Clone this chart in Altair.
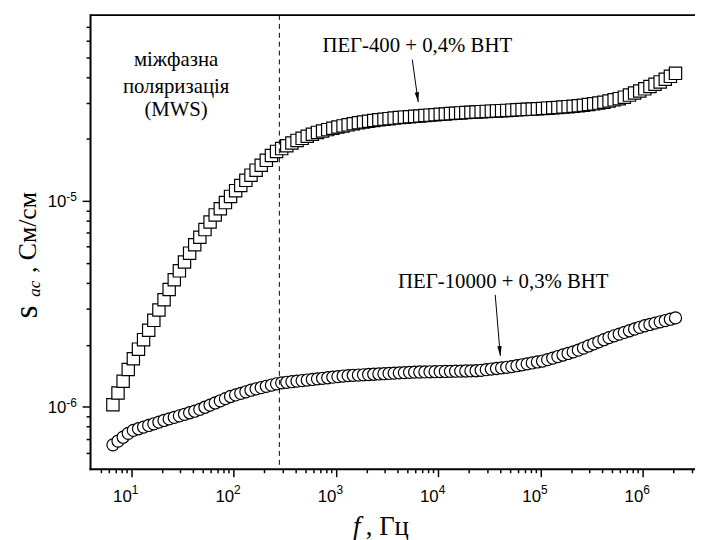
import altair as alt
import pandas as pd

# ---- data ----
freq_hz = [6.607, 7.413, 8.318, 9.333,
           10.47, 11.75, 13.18, 14.79, 16.60, 18.62, 20.89, 23.44, 26.30, 29.51,
           33.11, 37.15, 41.69, 46.77, 52.48, 58.88, 66.07, 74.13, 83.18, 93.33,
           104.7, 117.5, 131.8, 147.9, 166.0, 186.2, 208.9, 234.4, 263.0, 295.1,
           331.1, 371.5, 416.9, 467.7, 524.8, 588.8, 660.7, 741.3, 831.8, 933.3,
           1047, 1175, 1318, 1479, 1660, 1862, 2089, 2344, 2630, 2951,
           3311, 3715, 4169, 4677, 5248, 5888, 6607, 7413, 8318, 9333,
           10470, 11750, 13180, 14790, 16600, 18620, 20890, 23440, 26300, 29510,
           33110, 37150, 41690, 46770, 52480, 58880, 66070, 74130, 83180, 93330,
           104700, 117500, 131800, 147900, 166000, 186200, 208900, 234400, 263000, 295100,
           331100, 371500, 416900, 467700, 524800, 588800, 660700, 741300, 831800, 933300,
           1047000, 1175000, 1318000, 1479000, 1660000, 1862000, 2089000]

# sigma_ac in units of 1e-6 S/cm
peg400_s = [1.023, 1.167, 1.330, 1.517,
            1.712, 1.905, 2.118, 2.355, 2.630, 2.951, 3.311, 3.715, 4.142, 4.573,
            5.050, 5.574, 6.121, 6.665, 7.258, 7.904, 8.551, 9.162, 9.817, 10.52,
            11.22, 11.89, 12.59, 13.34, 14.11, 14.90, 15.74, 16.63, 17.40, 17.96,
            18.53, 19.12, 19.68, 20.14, 20.61, 21.09, 21.52, 21.86, 22.20, 22.55,
            22.87, 23.14, 23.42, 23.71, 23.97, 24.17, 24.38, 24.59, 24.78, 24.94,
            25.10, 25.26, 25.40, 25.52, 25.64, 25.75, 25.87, 25.99, 26.11, 26.23,
            26.35, 26.45, 26.56, 26.67, 26.77, 26.86, 26.95, 27.05, 27.14, 27.21,
            27.29, 27.37, 27.45, 27.53, 27.61, 27.69, 27.77, 27.85, 27.93, 28.01,
            28.11, 28.22, 28.34, 28.45, 28.58, 28.71, 28.84, 28.98, 29.15, 29.39,
            29.63, 29.87, 30.17, 30.57, 30.98, 31.39, 31.92, 32.66, 33.42, 34.20,
            35.04, 35.95, 36.90, 37.86, 38.98, 40.30, 41.66]

peg10000_s = [0.6531, 0.6817, 0.7115, 0.7427,
              0.7677, 0.7820, 0.7967, 0.8116, 0.8267, 0.8421, 0.8580, 0.8730, 0.8882, 0.9036,
              0.9195, 0.9354, 0.9517, 0.9710, 0.9947, 1.0188, 1.0437, 1.0690, 1.0951, 1.1220,
              1.1418, 1.1620, 1.1825, 1.2034, 1.2230, 1.2400, 1.2573, 1.2748, 1.2925, 1.3066,
              1.3150, 1.3233, 1.3318, 1.3404, 1.3488, 1.3575, 1.3663, 1.3751, 1.3836, 1.3925,
              1.4015, 1.4103, 1.4174, 1.4217, 1.4260, 1.4303, 1.4345, 1.4388, 1.4435, 1.4478,
              1.4521, 1.4565, 1.4609, 1.4653, 1.4697, 1.4731, 1.4751, 1.4768, 1.4789, 1.4806,
              1.4826, 1.4847, 1.4864, 1.4884, 1.4901, 1.4922, 1.4939, 1.4960, 1.5042, 1.5143,
              1.5245, 1.5343, 1.5446, 1.5549, 1.5664, 1.5827, 1.5996, 1.6163, 1.6331, 1.6505,
              1.6677, 1.6943, 1.7239, 1.7539, 1.7845, 1.8155, 1.8472, 1.8841, 1.9284, 1.9742,
              2.0207, 2.0687, 2.1174, 2.1677, 2.2111, 2.2538, 2.2973, 2.3410, 2.3862, 2.4322,
              2.4746, 2.5116, 2.5483, 2.5860, 2.6238, 2.6628, 2.7019]

S_UNIT = 1e-6

x_major = [10, 100, 1e3, 1e4, 1e5, 1e6]
x_major_exp = ["1", "2", "3", "4", "5", "6"]
y_major = [1e-6, 1e-5]
y_major_exp = ["-6", "-5"]

mws_lines = ["міжфазна", "поляризація", "(MWS)"]
mws_f = [27.4, 27.4, 27.4]
mws_s = [4.86e-5, 3.57e-5, 2.77e-5]

label_text = ["ПЕГ-400 + 0,4% ВНТ", "ПЕГ-10000 + 0,3% ВНТ"]
label_f = [6240, 43300]
label_s = [5.68e-5, 4.05e-6]

arrow_f = [5580, 36100]
arrow_s = [4.86e-5, 3.50e-6]
arrow_f2 = [6380, 40500]
arrow_s2 = [3.02e-5, 1.766e-6]
arrow_angle = [352, 355]

dash_f = [280]

# ---- build ----
W, H = 612, 459
SERIF = "Liberation Serif, 'Times New Roman', Times, serif"
SANS = "Liberation Sans, Arial, Helvetica, sans-serif"
xscale = alt.Scale(type="log", domain=[3.95, 3.24e6], nice=False)
yscale = alt.Scale(type="log", domain=[5e-7, 8e-5], nice=False)

x_minor = [m * 10 ** k for k in range(0, 7) for m in range(2, 10)
           if 4.5 < m * 10 ** k < 3.2e6]
y_minor = [m * 10.0 ** k for k in (-7, -6, -5) for m in range(2, 10)
           if 5.5e-7 < m * 10.0 ** k < 7.5e-5]

ax_x = alt.Axis(values=x_major, labels=False, tickSize=8, orient="bottom", grid=False,
                title=None, tickColor="black", domainColor="black", tickWidth=1.5,
                domainWidth=2, domainCap="square")
ax_y = alt.Axis(values=y_major, labels=False, tickSize=8, orient="left", grid=False,
                title=None, tickColor="black", domainColor="black", tickWidth=1.5,
                domainWidth=2, domainCap="square")
ax_x_minor = alt.Axis(values=x_minor, tickSize=4, labels=False, domain=False, orient="bottom",
                      grid=False, title=None, tickColor="black", tickWidth=1.5)
ax_y_minor = alt.Axis(values=y_minor, tickSize=4, labels=False, domain=False, orient="left",
                      grid=False, title=None, tickColor="black", tickWidth=1.5)

df400 = pd.DataFrame({"f": freq_hz, "s": [v * S_UNIT for v in peg400_s]})
df10k = pd.DataFrame({"f": freq_hz, "s": [v * S_UNIT for v in peg10000_s]})

def X(field):
    return alt.X(field, type="quantitative", scale=xscale, axis=None)

def Y(field):
    return alt.Y(field, type="quantitative", scale=yscale, axis=None)

squares = alt.Chart(df400).mark_point(
    shape="square", filled=True, fill="white", stroke="black", strokeWidth=1.2,
    size=155, opacity=1, fillOpacity=1, strokeOpacity=1
).encode(x=alt.X("f:Q", scale=xscale, axis=ax_x), y=alt.Y("s:Q", scale=yscale, axis=ax_y))

circles = alt.Chart(df10k).mark_point(
    shape="circle", filled=True, fill="white", stroke="black", strokeWidth=1.2,
    size=150, opacity=1, fillOpacity=1, strokeOpacity=1
).encode(x=X("f"), y=Y("s"))

minor = alt.Chart(df10k).mark_point(opacity=0).encode(
    x=alt.X("f:Q", scale=xscale, axis=ax_x_minor),
    y=alt.Y("s:Q", scale=yscale, axis=ax_y_minor))

dashed = alt.Chart(pd.DataFrame({"f": dash_f})).mark_rule(
    color="black", strokeWidth=1, strokeDash=[5, 4]
).encode(x=X("f"))

topline = alt.Chart(pd.DataFrame({"a": [0]})).mark_rule(color="black", strokeWidth=1.8).encode(
    y=alt.value(0), x=alt.value(0), x2=alt.value(W))

arr_df = pd.DataFrame({"f": arrow_f, "s": arrow_s, "f2": arrow_f2, "s2": arrow_s2, "ang": arrow_angle})
arrows = alt.Chart(arr_df).mark_rule(color="black", strokeWidth=1).encode(
    x=X("f"), y=Y("s"), x2="f2:Q", y2="s2:Q")
heads = alt.Chart(arr_df).mark_point(
    shape="M0,0L-0.22,-1L0.22,-1Z", filled=True, color="black", size=400, opacity=1
).encode(x=X("f2"), y=Y("s2"), angle=alt.Angle("ang:Q", scale=None))

# annotation texts (one text mark per label)
ann = []
for t, f, s in zip(label_text + mws_lines, label_f + mws_f, label_s + mws_s):
    ann.append(alt.Chart(pd.DataFrame({"f": [f], "s": [s]})).mark_text(
        text=t, font=SERIF, fontSize=21, color="black", align="center", baseline="middle"
    ).encode(x=X("f"), y=Y("s")))

# tick labels: "10" with a raised exponent
xt_df = pd.DataFrame({"f": x_major, "b": ["10"] * len(x_major), "e": x_major_exp})
xt_base = alt.Chart(xt_df).mark_text(font=SANS, fontSize=17, color="black", align="right",
                                     baseline="alphabetic", dx=0.5).encode(
    x=X("f"), y=alt.value(493), text="b:N")
xt_exp = alt.Chart(xt_df).mark_text(font=SANS, fontSize=12, color="black", align="left",
                                    baseline="alphabetic", dx=0.5).encode(
    x=X("f"), y=alt.value(485), text="e:N")
yt_df = pd.DataFrame({"s": y_major, "b": ["10"] * len(y_major), "e": y_major_exp})
yt_base = alt.Chart(yt_df).mark_text(font=SANS, fontSize=17, color="black", align="right",
                                     baseline="alphabetic", dy=6.5).encode(
    y=Y("s"), x=alt.value(-24), text="b:N")
yt_exp = alt.Chart(yt_df).mark_text(font=SANS, fontSize=12, color="black", align="left",
                                    baseline="alphabetic", dy=0.5).encode(
    y=Y("s"), x=alt.value(-24), text="e:N")

one = pd.DataFrame({"a": [0]})
def title_piece(txt, px, py, size, angle=0, italic=False, font=SERIF):
    kw = dict(text=txt, font=font, fontSize=size, color="black", align="left",
              baseline="alphabetic")
    if angle:
        kw["angle"] = angle
    if italic:
        kw["fontStyle"] = "italic"
    return alt.Chart(one).mark_text(**kw).encode(x=alt.value(px), y=alt.value(py))

ytitle = [
    title_piece("s", -54, 307, 34, angle=270),
    title_piece("ac", -51, 285, 17, angle=270, italic=True),
    title_piece(", См/см", -55, 261, 26, angle=270),
]
xtitle = [
    title_piece("f", 266, 526, 27, italic=True),
    title_piece(", Гц", 279, 526, 27),
]

chart = alt.layer(
    squares, circles, minor, dashed, topline, arrows, heads, *ann,
    xt_base, xt_exp, yt_base, yt_exp, *ytitle, *xtitle
).resolve_axis(x="independent", y="independent").properties(
    width=W, height=H,
    padding={"left": 83, "top": 4, "right": 0, "bottom": 70},
    autosize=alt.AutoSizeParams(type="none"),
    background="white",
).configure_view(stroke=None)

chart.save("out.html", embed_options={"renderer": "svg", "actions": False})
